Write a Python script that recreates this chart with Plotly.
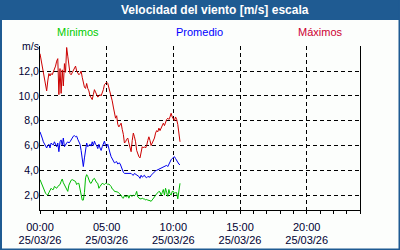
import plotly.graph_objects as go
import pandas as pd

# ---- data (5-minute samples starting 25/03/26 00:00) ----
start_time = "2026-03-25 00:00"
step = "5min"

maximos = [
    13.4, 12.9, 12.4, 11.9, 11.3, 10.8, 10.4, 11.2, 11.8, 11.6, 11.8, 11.7,
    11.9, 12.1, 12.4, 12.8, 13.0, 10.1, 12.2, 10.2, 12.1, 10.8, 12.6, 11.9,
    13.9, 13.2, 12.5, 11.8, 11.7, 11.9, 12.0, 12.2, 12.4, 12.0, 11.8, 11.7,
    11.8, 12.0, 11.5, 11.0, 10.7, 10.6, 11.0, 10.6, 10.4, 10.0, 9.8, 9.7,
    10.1, 10.5, 10.3, 10.0, 9.9, 10.0, 10.1, 10.0, 10.2, 10.5, 10.9, 11.0,
    11.1, 11.0, 10.7, 10.4, 10.0, 9.6, 9.1, 8.5, 8.2, 8.4, 7.7, 7.5,
    7.7, 7.8, 7.3, 6.9, 6.2, 6.3, 6.5, 6.6, 6.2, 5.9, 5.5, 6.4,
    7.0, 6.7, 6.3, 5.6, 5.3, 5.1, 5.0, 5.5, 5.9, 5.8, 5.9, 5.8,
    6.0, 6.4, 6.7, 6.4, 6.0, 6.2, 6.4, 6.6, 7.0, 7.2, 7.1, 7.4,
    7.2, 7.4, 7.6, 7.8, 7.6, 7.9, 8.1, 8.2, 8.1, 8.3, 8.6, 8.3,
    8.1, 8.0, 8.3, 8.1, 7.7, 7.0, 6.3,
]

promedio = [
    7.1, 6.9, 6.6, 6.3, 6.1, 5.9, 5.8, 6.0, 6.1, 5.8, 6.2, 6.1,
    6.05, 6.3, 6.1, 5.9, 6.2, 5.5, 6.3, 6.45, 6.0, 6.6, 5.9, 6.1,
    6.2, 6.3, 6.2, 6.3, 6.5, 6.6, 6.75, 6.8, 6.7, 6.75, 6.5, 6.3,
    6.1, 5.6, 5.0, 4.3, 5.0, 5.9, 6.2, 5.9, 6.0, 6.1, 5.95, 6.3,
    6.0, 6.35, 6.1, 6.0, 5.75, 6.1, 5.8, 5.6, 5.9, 6.1, 6.35, 6.0,
    5.9, 6.1, 5.6, 5.4, 5.1, 4.9, 4.7, 4.6, 4.65, 4.7, 4.5, 4.6,
    4.55, 4.3, 4.1, 3.85, 3.75, 3.75, 3.7, 3.75, 3.75, 3.7, 3.75, 3.65,
    3.6, 3.75, 3.7, 3.6, 3.6, 3.5, 3.35, 3.6, 3.45, 3.5, 3.6, 3.45,
    3.4, 3.5, 3.5, 3.45, 3.6, 3.7, 3.75, 3.9, 3.95, 4.0, 4.05, 4.1,
    4.15, 4.2, 4.25, 4.3, 4.3, 4.4, 4.4, 4.3, 4.5, 4.7, 4.85, 4.95,
    5.0, 5.1, 4.95, 4.8, 4.6, 4.5, 4.45,
]

minimos = [
    3.25, 3.0, 2.8, 2.5, 2.35, 2.15, 2.05, 2.0, 2.2, 2.35, 2.55, 2.45,
    2.45, 2.7, 2.6, 2.55, 2.7, 2.75, 2.85, 3.1, 3.3, 3.0, 2.8, 2.7,
    2.5, 2.3, 2.8, 3.1, 3.2, 3.25, 3.2, 3.15, 3.1, 2.85, 2.95, 2.95,
    2.5, 1.9, 1.6, 1.6, 2.2, 3.4, 3.65, 3.5, 3.3, 3.0, 2.95, 3.2,
    3.3, 3.35, 3.1, 3.0, 2.95, 2.55, 2.7, 2.85, 2.95, 2.9, 2.85, 2.95,
    2.95, 2.85, 2.9, 2.8, 2.7, 2.5, 2.45, 2.3, 2.3, 2.3, 2.25, 2.15,
    2.1, 2.0, 1.8, 1.75, 1.95, 1.9, 1.85, 2.0, 1.75, 2.0, 1.95, 1.9,
    2.0, 1.95, 2.05, 2.3, 1.85, 1.75, 1.7, 1.7, 1.75, 1.7, 1.7, 1.6,
    1.65, 1.6, 1.6, 1.55, 1.5, 1.6, 1.7, 1.85, 2.0, 2.1, 2.15, 2.3,
    2.25, 2.0, 2.2, 2.45, 2.0, 2.55, 2.2, 1.9, 2.45, 2.1, 2.0, 2.3,
    2.3, 2.15, 2.2, 2.2, 1.7, 2.5, 2.95,
]

y_tickvals = [2, 4, 6, 8, 10, 12, 14]
y_ticktext = ["2,0", "4,0", "6,0", "8,0", "10,0", "12,0", "m/s"]
series_names = ["Mínimos", "Promedio", "Máximos"]
title_text = "Velocidad del viento [m/s] escala"

# ---- styles ----
W, H = 400, 250
ML, MR, MT, MB = 40, 40, 46, 40
C_MIN, C_AVG, C_MAX = "#00bb00", "#0000ee", "#cc0000"
LEG_COLORS = ["#00cc00", "#0000ff", "#cc0033"]
FRAME = "#1f5b92"
BG = "#fcfefc"
TXT = "#000033"
FONT = "Liberation Sans"

times = pd.date_range(start_time, periods=len(maximos), freq=step)
x_range = [pd.Timestamp(start_time), pd.Timestamp(start_time) + pd.Timedelta(hours=24)]

fig = go.Figure()
for vals, name, col in [(minimos, series_names[0], C_MIN),
                        (promedio, series_names[1], C_AVG),
                        (maximos, series_names[2], C_MAX)]:
    fig.add_trace(go.Scatter(x=times, y=vals, name=name, mode="lines",
                             line=dict(color=col, width=1), showlegend=False))
# invisible carrier trace for the date-label axis
fig.add_trace(go.Scatter(x=times, y=maximos, xaxis="x2", mode="lines",
                         line=dict(width=0, color="rgba(0,0,0,0)"),
                         showlegend=False, hoverinfo="skip"))

pw = W - ML - MR
ph = H - MT - MB
def px_x(p):
    return (p - ML) / pw
def px_y(p):
    return 1 - (p - MT) / ph

shapes = [
    dict(type="rect", xref="paper", yref="paper", x0=px_x(0), x1=px_x(W),
         y0=px_y(20), y1=px_y(0), fillcolor=FRAME, line=dict(width=0), layer="below"),
    dict(type="rect", xref="paper", yref="paper", x0=px_x(0), x1=px_x(2),
         y0=px_y(H), y1=px_y(0), fillcolor=FRAME, line=dict(width=0), layer="below"),
    dict(type="rect", xref="paper", yref="paper", x0=px_x(W - 1.5), x1=px_x(W),
         y0=px_y(H), y1=px_y(0), fillcolor=FRAME, line=dict(width=0), layer="below"),
    dict(type="rect", xref="paper", yref="paper", x0=px_x(0), x1=px_x(W),
         y0=px_y(H), y1=px_y(H - 1.5), fillcolor=FRAME, line=dict(width=0), layer="below"),
]

annotations = [
    dict(text="<b>" + title_text + "</b>", xref="paper", yref="paper",
         x=px_x(214.5), y=px_y(10.5), showarrow=False, xanchor="center", yanchor="middle",
         font=dict(color="white", size=12, family=FONT)),
]
for name, col, cx in zip(series_names, LEG_COLORS, [78, 199, 320]):
    annotations.append(dict(text=name, xref="paper", yref="paper", x=px_x(cx), y=px_y(32),
                            showarrow=False, xanchor="center", yanchor="middle",
                            font=dict(color=col, size=11, family=FONT)))

fig.update_layout(
    width=W, height=H,
    margin=dict(l=ML, r=MR, t=MT, b=MB, autoexpand=False),
    paper_bgcolor=BG, plot_bgcolor=BG,
    font=dict(family=FONT, size=11, color=TXT),
    shapes=shapes, annotations=annotations,
    xaxis=dict(
        type="date", range=x_range, automargin=False,
        tick0=pd.Timestamp(start_time), dtick=5 * 3600000,
        tickformat="%H:%M",
        ticks="outside", ticklen=3, tickcolor="black",
        minor=dict(dtick=3600000, ticks="outside", ticklen=3, tickcolor="black", showgrid=False),
        showgrid=True, gridcolor="black", griddash="4px,3px", gridwidth=1,
        showline=True, linecolor="black", linewidth=1, mirror=False,
        zeroline=False, tickfont=dict(size=11, color=TXT),
        ticklabelstandoff=4,
    ),
    xaxis2=dict(
        type="date", range=x_range, overlaying="x", side="bottom", anchor="y",
        automargin=False,
        tick0=pd.Timestamp(start_time), dtick=5 * 3600000,
        tickformat="%d/%m/%y", ticks="", showgrid=False, showline=False,
        zeroline=False, tickfont=dict(size=11, color=TXT),
        ticklabelstandoff=22,
    ),
    yaxis=dict(
        range=[0.8, 14.02], automargin=False,
        tickvals=y_tickvals, ticktext=y_ticktext,
        ticks="", showgrid=True, gridcolor="black", griddash="4px,3px", gridwidth=1,
        showline=True, linecolor="black", linewidth=1, mirror=True,
        zeroline=False, tickfont=dict(size=10.5, color=TXT),
        ticklabelstandoff=-2,
    ),
)

fig.write_html("out.html")
